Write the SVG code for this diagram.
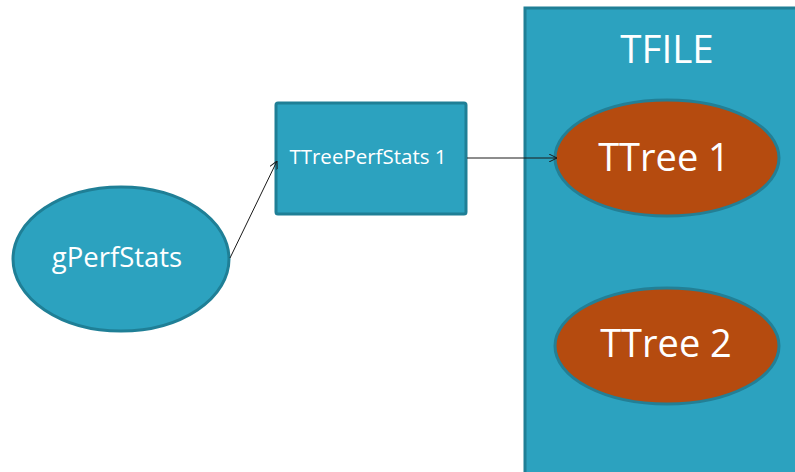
<svg xmlns="http://www.w3.org/2000/svg" width="795" height="472" viewBox="0 0 795 472">
<defs>
<style>
.teal{fill:#2ca2bf;stroke:#1f7f96;stroke-width:3}
.tree{fill:#b54b0f;stroke:#237f95;stroke-width:3}
.lbl{font-family:"Open Sans","DejaVu Sans",sans-serif;fill:#ffffff;text-anchor:middle}
.conn{stroke:#1a1a1a;stroke-width:1;fill:none}
</style>
<marker id="arr" viewBox="0 0 10 10" refX="10" refY="5" markerWidth="8" markerHeight="8" orient="auto" markerUnits="userSpaceOnUse">
<path d="M0,0 L10,5 L0,10" fill="none" stroke="#1a1a1a" stroke-width="1.2"/>
</marker>
</defs>
<rect width="795" height="472" fill="#ffffff"/>
<g id="tfile">
<rect x="525" y="8" width="275" height="470" class="teal"/>
<text x="667" y="63" class="lbl" font-size="38.5">TFILE</text>
</g>
<g id="gperfstats">
<ellipse cx="121" cy="259" rx="108" ry="72" class="teal"/>
<text x="117" y="267" class="lbl" font-size="27.5">gPerfStats</text>
</g>
<g id="ttreeperfstats1">
<rect x="276" y="103" width="190" height="111" rx="2" class="teal"/>
<text x="368" y="164" class="lbl" font-size="20.5">TTreePerfStats 1</text>
</g>
<g id="ttree1">
<ellipse cx="667" cy="158" rx="112" ry="58" class="tree"/>
<text x="664" y="171" class="lbl" font-size="38">TTree 1</text>
</g>
<g id="ttree2">
<ellipse cx="667" cy="346" rx="112" ry="58" class="tree"/>
<text x="666" y="357" class="lbl" font-size="38">TTree 2</text>
</g>
<g id="connectors">
<line x1="230" y1="258" x2="277" y2="161" class="conn" marker-end="url(#arr)"/>
<line x1="467" y1="158" x2="557" y2="158" class="conn" marker-end="url(#arr)"/>
</g>
</svg>
